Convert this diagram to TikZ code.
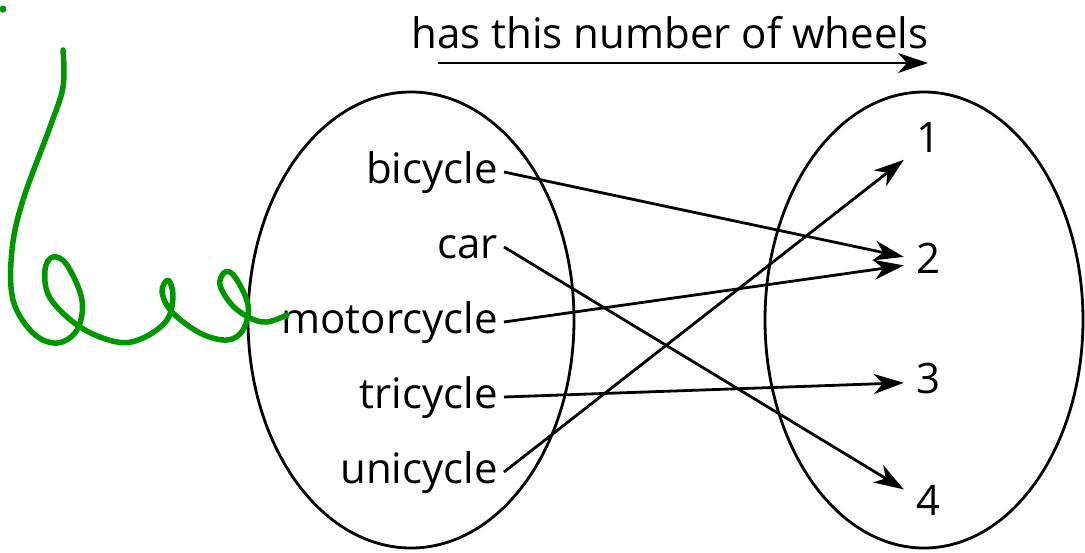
\documentclass[tikz,border=0pt]{standalone}
\usepackage{fontspec}
\setmainfont{Open Sans}
\usetikzlibrary{arrows.meta}
\definecolor{pen}{RGB}{0,150,0}

\begin{document}
\begin{tikzpicture}[x=1pt, y=-1pt,
    item/.style={anchor=east, inner sep=6pt, text height=31pt, text depth=9pt, font=\fontsize{42}{48}\selectfont},
    num/.style={inner sep=12pt, text height=31pt, text depth=9pt, font=\fontsize{42}{48}\selectfont},
    set/.style={draw, line width=2.8pt},
    maps/.style={-{Stealth[length=30pt, width=20pt, inset=9pt]}, line width=2.8pt}
]
\useasboundingbox (0,0) rectangle (1085,552);

% Sets
\draw[set] (411,320) ellipse [x radius=163pt, y radius=228pt];
\draw[set] (924,320) ellipse [x radius=159pt, y radius=228pt];

% Vehicles
\node[item] (bic) at (504,172) {bicycle};
\node[item] (car) at (504,247) {car};
\node[item] (mot) at (504,322) {motorcycle};
\node[item] (tri) at (504,397) {tricycle};
\node[item] (uni) at (504,472) {unicycle};

% Wheel counts
\node[num] (n1) at (928,141) {1};
\node[num] (n2) at (928,262) {2};
\node[num] (n3) at (928,382) {3};
\node[num] (n4) at (928,504) {4};

% Relation name
\node[anchor=base, font=\fontsize{42}{48}\selectfont] (title) at (670,48) {has this number of wheels};
\coordinate (arrS) at (438,63);
\coordinate (arrE) at (928,63);
\draw[maps] (arrS) -- (arrE);

% Mappings
\draw[maps] (bic.east) -- (n2);
\draw[maps] (car.east) -- (n4);
\draw[maps] (mot.east) -- (n2);
\draw[maps] (tri.east) -- (n3);
\draw[maps] (uni.east) -- (n1);

% Hand-drawn mark
\fill[pen] (3,9) circle (3.5pt);
\draw[pen, line width=5.5pt, line cap=round, line join=round]
  plot[smooth, tension=0.6] coordinates {(63,50) (63,87) (50,127) (23,200) (12,250) (13,300)
  (33,333) (57,343) (77,330) (82,300) (67,265) (53,257) (45,270) (50,298) (80,327)
  (117,342) (143,338) (167,320) (173,295) (168,280) (162,292) (172,312) (200,333)
  (227,340) (243,330) (248,305) (235,277) (225,272) (220,285) (232,305) (250,318)
  (267,322) (287,315)};

\end{tikzpicture}
\end{document}
